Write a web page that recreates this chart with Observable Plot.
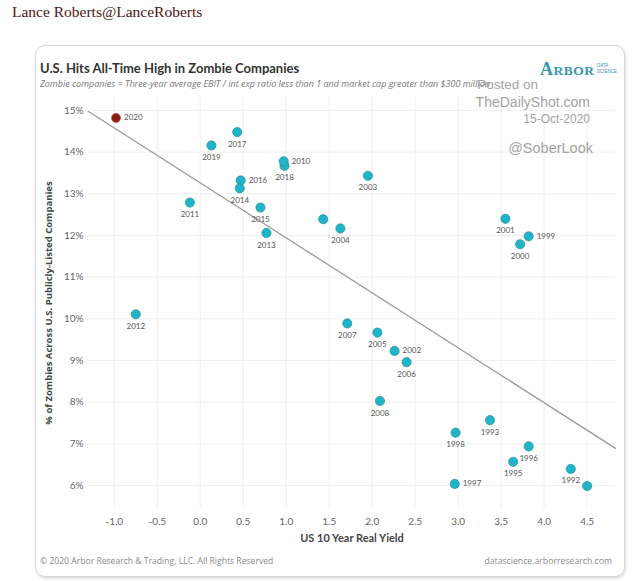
<!DOCTYPE html>
<html>
<head>
<meta charset="utf-8">
<script src="https://cdn.jsdelivr.net/npm/d3@7"></script>
<script src="https://cdn.jsdelivr.net/npm/@observablehq/plot@0.6"></script>
<style>
  html, body { margin: 0; padding: 0; background: #fff; }
  #page { position: relative; width: 634px; height: 581px; overflow: hidden; }
  .abs { position: absolute; white-space: nowrap; }
  #author { left: 12px; top: 3px; font-family: "Liberation Serif", "DejaVu Serif", serif; font-size: 15.5px; color: #4e1414; }
  #card { left: 35px; top: 45px; width: 588px; height: 530px; border: 1px solid #d6d6d6; border-radius: 10px; box-shadow: 1px 2px 3px rgba(0,0,0,0.12); background: #fff; }
  #title { left: 40px; top: 60px; font-family: Lato, "Open Sans", sans-serif; font-weight: 700; font-size: 13px; color: #333; }
  #subtitle { left: 40px; top: 77px; font-family: "Open Sans", sans-serif; font-style: italic; font-size: 9px; color: #777; }
  .wm { font-family: "Liberation Sans", Arial, sans-serif; color: #a3a3a3; right: 44px; }
  #arbor { left: 540px; top: 59px; font-family: "Liberation Serif", serif; font-weight: 700; color: #3a97b0; letter-spacing: 0.5px; }
  #arbor .big { font-size: 18px; }
  #arbor .small { font-size: 13.5px; }
  #ds { left: 597px; top: 63px; font-family: "Liberation Sans", sans-serif; font-size: 4.5px; line-height: 5.5px; color: #3a97b0; }
  .foot { top: 555px; font-family: "Open Sans", sans-serif; font-size: 8.6px; color: #8a8a8a; }
  #chart { position: absolute; left: 0; top: 0; }
</style>
</head>
<body>
<div id="page">
  <div class="abs" id="author">Lance Roberts@LanceRoberts</div>
  <div class="abs" id="card"></div>
  <div class="abs" id="title">U.S. Hits All-Time High in Zombie Companies</div>
  <div class="abs" id="subtitle">Zombie companies = Three-year average EBIT / int exp ratio less than 1 and market cap greater than $300 million</div>
  <div class="abs" id="arbor"><span class="big">A</span><span class="small">RBOR</span></div>
  <div class="abs" id="ds">DATA<br>SCIENCE</div>
  <div id="chart"></div>
  <div class="abs wm" style="top:77px;font-size:13.5px;right:96px;">Posted on</div>
  <div class="abs wm" style="top:94px;font-size:14px;">TheDailyShot.com</div>
  <div class="abs wm" style="top:112px;font-size:12px;">15-Oct-2020</div>
  <div class="abs wm" style="top:140px;font-size:14.5px;right:41px;">@SoberLook</div>
  <div class="abs foot" style="left:40px;">© 2020 Arbor Research &amp; Trading, LLC. All Rights Reserved</div>
  <div class="abs foot" style="right:22px;font-size:8.7px;">datascience.arborresearch.com</div>
</div>
<script>
// ---- data ----
const years = [2020, 2019, 2018, 2017, 2016, 2015, 2014, 2013, 2012, 2011, 2010, 2009, 2008, 2007, 2006, 2005, 2004, 2003, 2002, 2001, 2000, 1999, 1998, 1997, 1996, 1995, 1994, 1993, 1992];
const realYield = [-0.98, 0.13, 0.98, 0.43, 0.47, 0.70, 0.46, 0.77, -0.75, -0.12, 0.97, 1.43, 2.09, 1.71, 2.40, 2.06, 1.63, 1.95, 2.26, 3.55, 3.72, 3.82, 2.97, 2.96, 3.82, 3.64, 4.50, 3.37, 4.31];
const zombiePct = [14.82, 14.16, 13.67, 14.48, 13.32, 12.67, 13.13, 12.06, 10.11, 12.79, 13.78, 12.39, 8.03, 9.89, 8.96, 9.67, 12.17, 13.43, 9.23, 12.40, 11.79, 11.98, 7.27, 6.04, 6.94, 6.57, 5.99, 7.57, 6.40];
const labelSide = ["right", "below", "below", "below", "right", "below", "below", "below", "below", "below", "right", "none", "below", "below", "below", "below", "below", "below", "right", "below", "below", "right", "below", "right", "below", "below", "none", "below", "below"];
const highlightYear = 2020;
const xTicks = [-1.0, -0.5, 0.0, 0.5, 1.0, 1.5, 2.0, 2.5, 3.0, 3.5, 4.0, 4.5];
const yTicks = [6, 7, 8, 9, 10, 11, 12, 13, 14, 15];
const xDomain = [-1.30, 4.83];
const yDomain = [5.45, 15.31];
const xLabel = "US 10 Year Real Yield";
const yLabel = "% of Zombies Across U.S. Publicly-Listed Companies";

const rows = years.map((year, i) => ({year, x: realYield[i], y: zombiePct[i], side: labelSide[i]}));

// ordinary least squares trend line computed from the data
const mx = d3.mean(realYield), my = d3.mean(zombiePct);
const slope = d3.sum(rows, d => (d.x - mx) * (d.y - my)) / d3.sum(rows, d => (d.x - mx) ** 2);
const intercept = my - slope * mx;
const trend = xDomain.map(x => ({x, y: intercept + slope * x}));

const font = "Lato, 'Open Sans', sans-serif";

const chart = Plot.plot({
  width: 634,
  height: 560,
  marginLeft: 88,
  marginRight: 19,
  marginTop: 97,
  marginBottom: 52,
  style: {fontFamily: font, background: "transparent", overflow: "visible"},
  x: {domain: xDomain, ticks: xTicks},
  y: {domain: yDomain, ticks: yTicks},
  marks: [
    Plot.gridX(xTicks, {stroke: "#efefef", strokeOpacity: 1}),
    Plot.gridY(yTicks, {stroke: "#efefef", strokeOpacity: 1}),
    Plot.axisX(xTicks, {tickSize: 0, tickPadding: 9, label: null, fontSize: 10, fill: "#666", tickFormat: d => d.toFixed(1)}),
    Plot.axisY(yTicks, {tickSize: 0, tickPadding: 5, label: null, fontSize: 10, fill: "#666", tickFormat: d => d + "%"}),
    Plot.text([xLabel], {frameAnchor: "bottom", dy: 33, text: d => d, fontSize: 11, fontWeight: "bold", fill: "#444"}),
    Plot.text([yLabel], {frameAnchor: "left", dx: -40, rotate: -90, textAnchor: "middle", text: d => d, fontFamily: "'Open Sans', sans-serif", fontSize: 9.5, fontWeight: "bold", fill: "#444"}),
    Plot.line(trend, {x: "x", y: "y", stroke: "#9c9c9c", strokeWidth: 1.3}),
    Plot.dot(rows, {x: "x", y: "y", r: 4.6,
      fill: d => d.year === highlightYear ? "#8c1b1b" : "#1fb5c9",
      stroke: d => d.year === highlightYear ? "#c0704a" : "#2c8d9c",
      strokeWidth: 0.7}),
    Plot.text(rows.filter(d => d.side === "below"), {x: "x", y: "y", text: d => String(d.year), dy: 12, fontSize: 8, fill: "#555"}),
    Plot.text(rows.filter(d => d.side === "right"), {x: "x", y: "y", text: d => String(d.year), dx: 8, textAnchor: "start", fontSize: 8, fill: "#555"})
  ]
});
document.getElementById("chart").appendChild(chart);
</script>
</body>
</html>
